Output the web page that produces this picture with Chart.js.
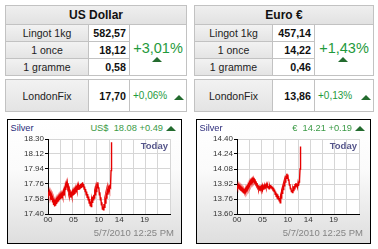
<!DOCTYPE html>
<html><head><meta charset="utf-8">
<script src="https://cdn.jsdelivr.net/npm/chart.js@4/dist/chart.umd.min.js"></script>
<style>
body{margin:0;width:378px;height:249px;background:#fff;position:relative;overflow:hidden;font-family:"Liberation Sans",Arial,sans-serif;}
.c{position:absolute;box-sizing:border-box;border:1px solid #c2c2c2;display:flex;align-items:center;justify-content:center;color:#222;}
.hd{background:linear-gradient(#efefef,#e2e2e2);font-weight:bold;font-size:12px;color:#111;}
.lb{background:linear-gradient(#f2f2f2,#e4e4e4);font-size:10.5px;}
.vl{background:#fff;font-weight:bold;font-size:10.7px;justify-content:flex-end;padding-right:3px;color:#111;}
.pc{background:#fff;flex-direction:column;color:#1f9a3c;font-size:14.5px;}
.pcs{background:#fff;color:#1f9a3c;font-size:10px;justify-content:flex-start;padding-left:3px;}
.tri{position:absolute;width:0;height:0;border-left:5px solid transparent;border-right:5px solid transparent;border-bottom:5px solid #236b2e;}
.box{position:absolute;box-sizing:border-box;border:1px solid #000;background:linear-gradient(#ffffff 0%,#fbfbfb 40%,#dedede 100%);}
.t{position:absolute;white-space:nowrap;line-height:1;}
canvas{position:absolute;}
</style></head><body>
<div id="root"></div>
<script>
// ---------- data ----------
const tableTitles = ['US Dollar', 'Euro €'];
const rowLabels = ['Lingot 1kg', '1 once', '1 gramme'];
const usdPrices = ['582,57', '18,12', '0,58'];
const eurPrices = ['457,14', '14,22', '0,46'];
const dayChange = ['+3,01%', '+1,43%'];
const fixLabel = 'LondonFix';
const fixPrices = ['17,70', '13,86'];
const fixChange = ['+0,06%', '+0,13%'];
const chartTitle = 'Silver';
const chartQuotes = ['US$\u00a0\u00a018.08 +0.49', '€\u00a0\u00a014.21 +0.19'];
const todayLabel = 'Today';
const stampLabel = '5/7/2010 12:25 PM';

const sampleStepHours = 0.1;
const usdValues = [17.66,17.63,17.67,17.62,17.66,17.61,17.64,17.57,17.61,17.54,
17.58,17.51,17.55,17.49,17.54,17.50,17.56,17.52,17.58,17.54,
17.59,17.55,17.61,17.57,17.62,17.58,17.63,17.59,17.64,17.61,
17.66,17.62,17.69,17.66,17.73,17.69,17.76,17.72,17.77,17.71,
17.73,17.66,17.69,17.62,17.65,17.60,17.64,17.61,17.66,17.62,
17.67,17.63,17.68,17.64,17.70,17.66,17.71,17.68,17.73,17.69,
17.74,17.70,17.75,17.71,17.76,17.72,17.77,17.73,17.78,17.73,
17.76,17.70,17.73,17.67,17.70,17.63,17.67,17.60,17.64,17.57,
17.61,17.53,17.58,17.50,17.55,17.49,17.57,17.54,17.61,17.57,
17.63,17.59,17.66,17.63,17.70,17.67,17.74,17.72,17.78,17.71,
17.72,17.63,17.66,17.57,17.60,17.51,17.54,17.46,17.49,17.45,
17.52,17.48,17.56,17.53,17.62,17.59,17.67,17.64,17.71,17.68,
17.72,17.69,17.73,17.72,17.92,18.26];
const eurValues = [13.90,13.88,13.91,13.87,13.90,13.86,13.89,13.85,13.88,13.84,
13.87,13.83,13.86,13.82,13.85,13.83,13.86,13.84,13.88,13.86,
13.89,13.87,13.91,13.89,13.93,13.91,13.95,13.93,13.96,13.94,
13.97,13.95,13.98,13.96,13.97,13.94,13.95,13.92,13.93,13.90,
13.91,13.88,13.89,13.86,13.88,13.85,13.88,13.86,13.89,13.87,
13.90,13.87,13.89,13.86,13.90,13.87,13.90,13.88,13.91,13.88,
13.91,13.88,13.90,13.87,13.90,13.88,13.91,13.88,13.90,13.87,
13.89,13.85,13.88,13.84,13.86,13.81,13.84,13.79,13.82,13.77,
13.81,13.76,13.79,13.74,13.77,13.72,13.79,13.77,13.84,13.82,
13.88,13.86,13.92,13.90,13.96,13.94,13.99,13.98,14.03,14.00,
14.02,13.96,13.97,13.91,13.92,13.87,13.88,13.84,13.86,13.83,
13.87,13.85,13.90,13.87,13.92,13.89,13.93,13.90,13.92,13.89,
13.93,13.90,13.94,13.96,14.08,14.32];
const usdYTicks = [17.40, 17.58, 17.76, 17.94, 18.12, 18.30];
const eurYTicks = [13.60, 13.76, 13.92, 14.08, 14.24, 14.40];
const xLabelHours = [0, 5, 10, 14, 19];
const xLabels = ['00', '05', '10', '14', '19'];
const gridHours = [0, 2.4, 4.8, 7.2, 9.6, 12, 14.4, 16.8, 19.2, 21.6, 24];

// ---------- layout ----------
const root = document.getElementById('root');
function el(cls, x, y, w, h, html, style) {
  const d = document.createElement('div');
  d.className = cls;
  d.style.left = x + 'px'; d.style.top = y + 'px';
  if (w != null) d.style.width = w + 'px';
  if (h != null) d.style.height = h + 'px';
  if (html != null) d.textContent = html;
  if (style) Object.assign(d.style, style);
  root.appendChild(d);
  return d;
}
function table(i, x0, lw, vw, pw, prices) {
  const W = lw + vw + pw - 2;
  el('c hd', x0, 5, W, 20, tableTitles[i]);
  for (let r = 0; r < 3; r++) {
    el('c lb', x0, 24 + r * 17, lw, 18, rowLabels[r]);
    el('c vl', x0 + lw - 1, 24 + r * 17, vw, 18, prices[r]);
  }
  const p = el('c pc', x0 + lw + vw - 2, 24, pw, 52);
  const s = document.createElement('div'); s.textContent = dayChange[i]; s.style.marginTop = '-4px';
  p.appendChild(s);
  el('tri', x0 + lw + vw - 2 + pw / 2 - 6, 57, null, null, null, {borderLeftWidth:'5.5px', borderRightWidth:'5.5px'});
  el('c lb', x0, 79, lw, 33, fixLabel);
  el('c vl', x0 + lw - 1, 79, vw, 33, fixPrices[i]);
  el('c pcs', x0 + lw + vw - 2, 79, pw, 33, fixChange[i]);
  el('tri', x0 + lw + vw - 2 + pw - 13, 95);
}
table(0, 5, 84, 42, 58, usdPrices);
table(1, 194, 79, 43, 60, eurPrices);

const whiteArea = {
  id: 'whiteArea',
  beforeDraw(c) {
    const a = c.chartArea, g = c.ctx;
    g.save(); g.fillStyle = '#fff'; g.fillRect(a.left, a.top, a.right - a.left, a.bottom - a.top); g.restore();
  }
};

function chartBox(i, bx, values, yTicks) {
  el('box', bx, 119, 175, 125);
  el('t', bx + 3.5, 124, null, null, chartTitle, {fontSize:'9.2px', color:'#2a2a7a'});
  el('t', bx + 48, 124, 108, null, chartQuotes[i], {fontSize:'9.3px', color:'#3a9a45', textAlign:'right'});
  el('tri', bx + 159, 126);
  const cv = document.createElement('canvas');
  cv.width = 172; cv.height = 100;
  cv.style.left = (bx + 1) + 'px'; cv.style.top = '133px';
  root.appendChild(cv);
  el('t', bx + 110, 140.5, 51, null, todayLabel, {fontSize:'9.5px', fontWeight:'bold', color:'#55558a', textAlign:'right'});
  el('t', bx + 60, 228, 107, null, stampLabel, {fontSize:'9.5px', color:'#858585', textAlign:'right'});

  const pts = values.map((v, k) => ({x: k * sampleStepHours, y: v}));
  new Chart(cv, {
    type: 'line',
    data: {datasets: [{data: pts, borderColor: '#e60000', borderWidth: 1.4, pointRadius: 0, tension: 0, xAxisID: 'x', yAxisID: 'y'}]},
    options: {
      responsive: false, animation: false, devicePixelRatio: 1,
      layout: {padding: {left: 0, right: 10, top: 6, bottom: 0}},
      plugins: {legend: {display: false}, tooltip: {enabled: false}},
      scales: {
        x: {
          type: 'linear', position: 'bottom', min: 0, max: 24,
          afterBuildTicks: a => { a.ticks = gridHours.map(v => ({value: v})); },
          afterFit: a => { a.height = 0; },
          ticks: {display: false},
          grid: {color: '#d6d6d6', drawTicks: false, lineWidth: 1},
          border: {color: '#000', width: 1}
        },
        xl: {
          type: 'linear', position: 'bottom', min: 0, max: 24,
          afterBuildTicks: a => { a.ticks = xLabelHours.map(v => ({value: v})); },
          afterFit: a => { a.height = 19; },
          ticks: {autoSkip: false, maxRotation: 0, padding: 1, color: '#333', font: {family: 'Liberation Sans', size: 8},
                  callback: v => xLabels[xLabelHours.indexOf(v)]},
          grid: {display: false, drawTicks: false},
          border: {display: false}
        },
        y: {
          type: 'linear', min: yTicks[0], max: yTicks[yTicks.length - 1],
          afterBuildTicks: a => { a.ticks = yTicks.map(v => ({value: v})); },
          afterFit: a => { a.width = 40; },
          ticks: {autoSkip: false, padding: 1, color: '#333', font: {family: 'Liberation Sans', size: 8},
                  callback: v => Number(v).toFixed(2)},
          grid: {color: '#d6d6d6', tickLength: 3, tickColor: '#000'},
          border: {color: '#000', width: 1}
        }
      }
    },
    plugins: [whiteArea]
  });
}
chartBox(0, 7, usdValues, usdYTicks);
chartBox(1, 196, eurValues, eurYTicks);
</script>
</body></html>
